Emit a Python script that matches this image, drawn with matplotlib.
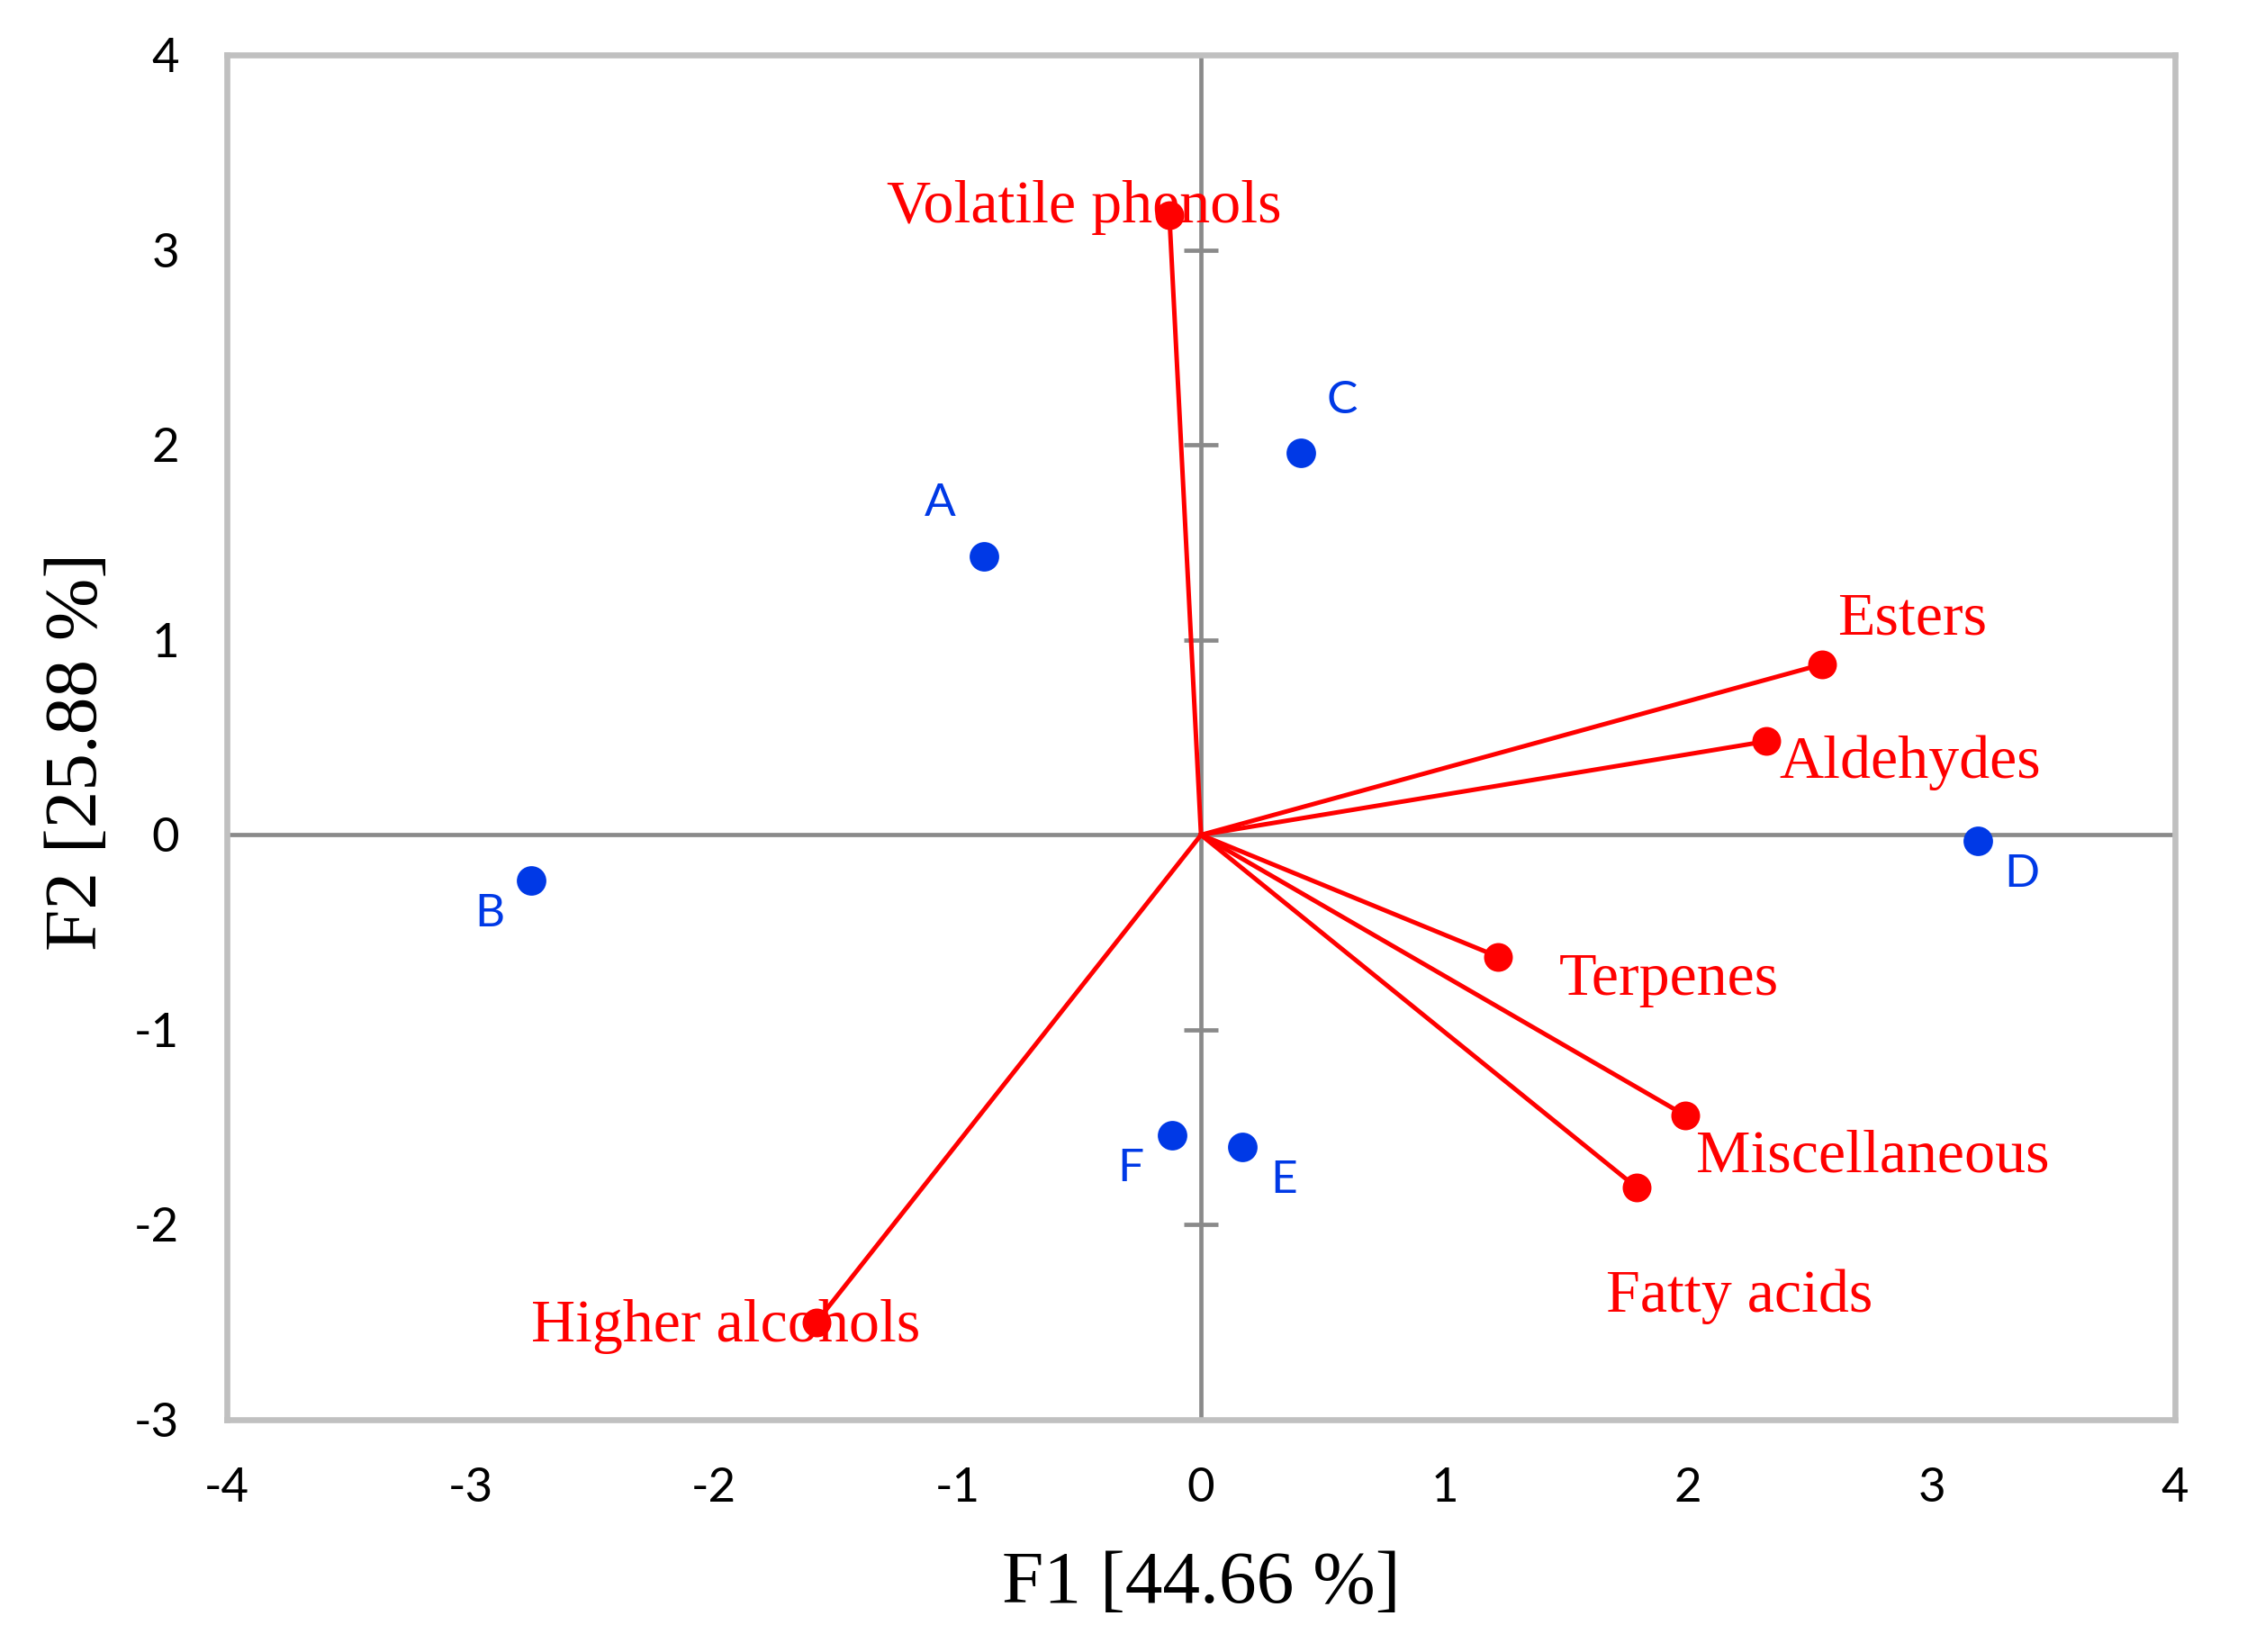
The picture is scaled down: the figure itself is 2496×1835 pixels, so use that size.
import matplotlib.pyplot as plt
import numpy as np

# ----------------------------------------------
#    PCA biplot: samples (blue) and compound classes (red vectors)
# ----------------------------------------------

samples = ['A', 'B', 'C', 'D', 'E', 'F']
f1_samples = [-0.89, -2.75, 0.41, 3.19, 0.17, -0.12]
f2_samples = [1.43, -0.235, 1.96, -0.03, -1.60, -1.54]

variables = ['Volatile phenols', 'Esters', 'Aldehydes', 'Terpenes',
             'Miscellaneous', 'Fatty acids', 'Higher alcohols']
f1_vars = [-0.13, 2.55, 2.32, 1.22, 1.99, 1.79, -1.58]
f2_vars = [3.18, 0.875, 0.48, -0.625, -1.44, -1.81, -2.50]

# label offsets (data units) from each point
sample_dx = [-0.18, -0.17, 0.17, 0.18, 0.17, -0.17]
sample_dy = [0.27, -0.17, 0.27, -0.17, -0.17, -0.17]
var_dx = [-0.35, 0.37, 0.59, 0.70, 0.77, 0.42, -0.37]
var_dy = [0.04, 0.23, -0.11, -0.12, -0.21, -0.56, -0.02]

xticks = [-4, -3, -2, -1, 0, 1, 2, 3, 4]
yticks = [-3, -2, -1, 0, 1, 2, 3, 4]
inner_yticks = [-2, -1, 1, 2, 3]

red = '#FF0000'
blue = '#0039E6'
axis_gray = '#8A8A8A'
frame_gray = '#C0C0C0'
serif = 'Liberation Serif'
sans = 'Lato'

fig = plt.figure(figsize=(12.48, 9.175), dpi=200)
ax = fig.add_axes([0.101, 0.1406, 0.867, 0.826])

ax.set_xlim(-4, 4)
ax.set_ylim(-3, 4)

# central axes
ax.axhline(0, color=axis_gray, lw=1.7, zorder=1)
ax.axvline(0, color=axis_gray, lw=1.7, zorder=1)
ax.plot([0] * len(inner_yticks), inner_yticks, ls='none', marker='_',
        ms=13.5, mew=1.7, color=axis_gray, zorder=1)

# vectors
for x, y in zip(f1_vars, f2_vars):
    ax.plot([0, x], [0, y], color=red, lw=1.8, zorder=2)
ax.plot(f1_vars, f2_vars, 'o', color=red, ms=10.5, zorder=3)
for name, x, y, dx, dy in zip(variables, f1_vars, f2_vars, var_dx, var_dy):
    ax.text(x + dx, y + dy, name, color=red, fontsize=24.5, family=serif,
            ha='center', va='center', zorder=4)

# samples
ax.plot(f1_samples, f2_samples, 'o', color=blue, ms=10.8, zorder=3)
for name, x, y, dx, dy in zip(samples, f1_samples, f2_samples, sample_dx, sample_dy):
    ax.text(x + dx, y + dy, name, color=blue, fontsize=18.5, family=sans,
            ha='center', va='center', zorder=4)

for sp in ax.spines.values():
    sp.set_color(frame_gray)
    sp.set_linewidth(2.4)

ax.set_xticks(xticks)
ax.set_yticks(yticks)
ax.tick_params(length=0, pad=19, labelsize=19)
ax.set_xticklabels([str(t) for t in xticks])
ax.set_yticklabels([str(t) for t in yticks])
for lab in ax.get_xticklabels() + ax.get_yticklabels():
    lab.set_family(sans)

fig.text(0.5345, 0.041, 'F1 [44.66 %]', fontsize=30, family=serif,
         ha='center', va='center')
fig.text(0.035, 0.545, 'F2 [25.88 %]', fontsize=30, family=serif,
         ha='center', va='center', rotation=90)

plt.savefig('out.png', dpi=200)
